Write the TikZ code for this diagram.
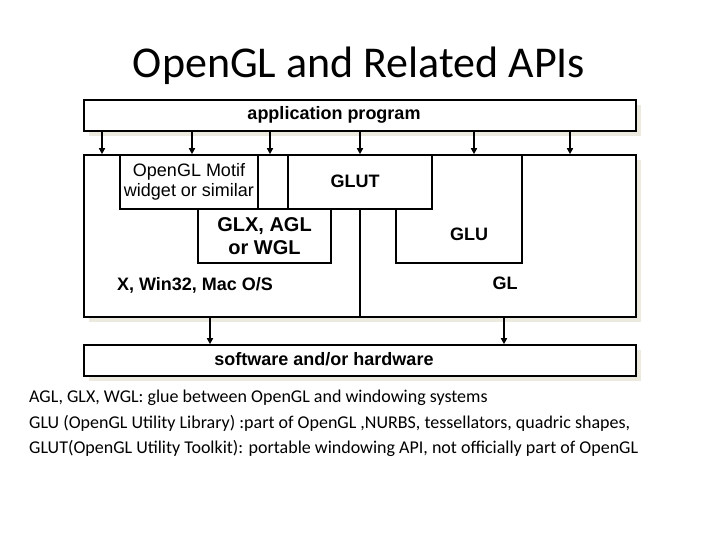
\documentclass[tikz,border=0pt]{standalone}
\usepackage{fontspec}
\setmainfont{Carlito}
\newfontfamily\arialfont{Liberation Sans}
\usetikzlibrary{arrows.meta, positioning, shadows}
\definecolor{shadowc}{RGB}{236,234,222}

\begin{document}
\begin{tikzpicture}[x=1pt, y=-1pt,
  box/.style={draw, line width=1.6pt, fill=white, inner sep=0pt},
  shd/.style={drop shadow={shadow xshift=5pt, shadow yshift=-5pt, fill=shadowc, opacity=1}},
  arr/.style={line width=1.6pt, -{Triangle[length=6pt,width=6pt]}},
  bold/.style={font=\arialfont\bfseries\fontsize{18}{20}\selectfont, inner sep=0pt},
  plain/.style={font=\arialfont\fontsize{18}{20.5}\selectfont, align=center, inner sep=0pt},
  note/.style={font=\fontsize{18}{21}\selectfont, anchor=west, inner sep=0pt}]
\useasboundingbox (0,0) rectangle (720,540);

% Title
\node[font=\fontsize{44}{48}\selectfont] (title) at (359,66) {OpenGL and Related APIs};

% Application layer
\node[box, shd, minimum width=552pt, minimum height=31pt] (app) at (360,115.5) {};
\node[bold] (apptxt) at (334,115) {application program};

% System block
\node[box, shd, minimum width=552pt, minimum height=162pt] (sys) at (360,236) {};
\node[box, minimum width=138pt, minimum height=54pt] (motif) at (189,182) {};
\node[plain] (motiftxt) at (189,182) {OpenGL Motif\\widget or similar};
\node[box, minimum width=133pt, minimum height=54pt] (glx) at (264.5,236) {};
\node[bold, font=\arialfont\bfseries\fontsize{20}{23}\selectfont, align=center] (glxtxt) at (264.5,236) {GLX, AGL\\or WGL};
\node[box, minimum width=126pt, minimum height=108pt] (glu) at (459,209) {};
\node[bold] (glutxt) at (469,234) {GLU};
\node[box, minimum width=144pt, minimum height=54pt] (glut) at (360,182) {};
\node[bold] (gluttxt) at (355,181) {GLUT};
\draw[line width=1.6pt] (glut.south) -- (sys.south);
\node[bold] (ostxt) at (195,285) {X, Win32, Mac O/S};
\node[bold] (gltxt) at (505,283) {GL};

% Hardware layer
\node[box, shd, minimum width=552pt, minimum height=31pt] (hw) at (360,360.5) {};
\node[bold] (hwtxt) at (324,359) {software and/or hardware};

% Arrows
\foreach \ax [count=\i] in {102,192,270,360,474,570} {
  \coordinate (t\i) at (\ax,0);
  \draw[arr] (app.south -| t\i) -- (sys.north -| t\i);
}
\foreach \ax [count=\i] in {210,504} {
  \coordinate (b\i) at (\ax,0);
  \draw[arr] (sys.south -| b\i) -- (hw.north -| b\i);
}

% Notes
\node[note] (n1) at (29,398) {AGL, GLX, WGL: glue between OpenGL and windowing systems};
\node[note] (n2) at (29,423) {GLU (OpenGL Utility Library) :part of OpenGL ,NURBS, tessellators, quadric shapes,};
\node[note] (n3) at (29,448) {GLUT(OpenGL Utility Toolkit): portable windowing API, not officially part of OpenGL};
\end{tikzpicture}
\end{document}
